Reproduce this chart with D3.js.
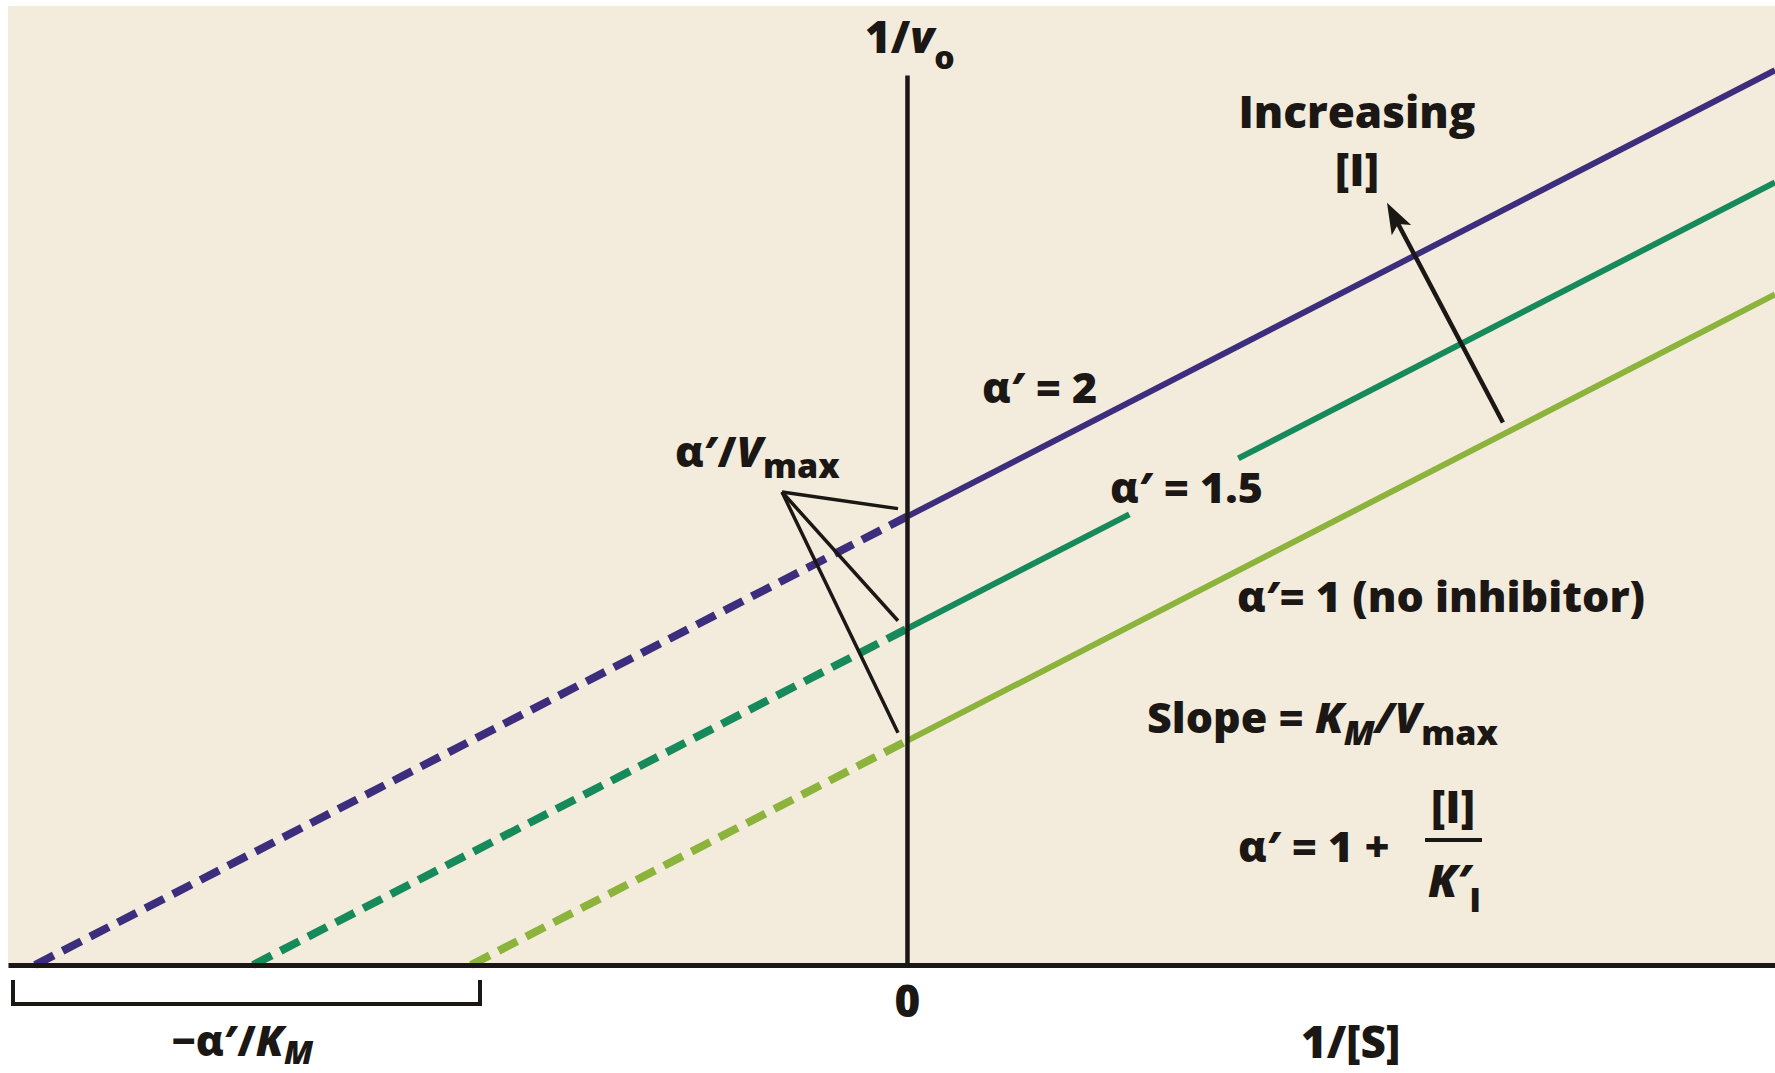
<!DOCTYPE html>
<html>
<head>
<meta charset="utf-8">
<script src="https://cdn.jsdelivr.net/npm/d3@7"></script>
<style>
  html, body { margin: 0; padding: 0; background: #ffffff; }
  svg { display: block; }
  text { font-family: "Open Sans", "Noto Sans", sans-serif; font-weight: 800; fill: #1b1715; }
</style>
</head>
<body>
<svg id="chart" width="1775" height="1073"></svg>
<script>
// Lineweaver–Burk (double-reciprocal) plot for uncompetitive inhibition.
// Each line: 1/v0 = (KM/Vmax)·(1/[S]) + α′/Vmax, x-intercept = −α′/KM.
const alphaValues  = [1, 1.5, 2];
const seriesNames  = ["α′= 1 (no inhibitor)", "α′ = 1.5", "α′ = 2"];
const seriesColors = ["#8cb43c", "#178a5b", "#3d2e7d"];
const KM = 1;
const VMAX = 1;
const xTickValues = [0];
const xTickLabels = ["0"];
// stretch of the α′ = 1.5 line left open for its label (in 1/[S] units)
const labelGaps = [null, [0.51, 0.76], null];

const W = 1775, H = 1073;
const FS = 43;
const svg = d3.select("#chart");

const x = d3.scaleLinear().domain([-2.062, 1.991]).range([8, 1775]);
const y = d3.scaleLinear().domain([0, 3.97]).range([965, 75]);

// beige plotting panel
svg.append("rect").attr("width", W).attr("height", H).attr("fill", "#ffffff");
svg.append("rect")
  .attr("x", x.range()[0]).attr("y", 6)
  .attr("width", x.range()[1] - x.range()[0])
  .attr("height", y(0) - 6)
  .attr("fill", "#f3ecdc");

const line = d3.line().x(d => x(d[0])).y(d => y(d[1]));
const xEnd = x.domain()[1];

alphaValues.forEach((a, i) => {
  const slope = KM / VMAX;
  const yInt = a / VMAX;
  const xInt = -a / KM;
  const f = v => slope * v + yInt;

  // extrapolated part back to the x-intercept
  svg.append("path")
    .attr("d", line([[xInt, 0], [0, yInt]]))
    .attr("fill", "none")
    .attr("stroke", seriesColors[i])
    .attr("stroke-width", 8)
    .attr("stroke-dasharray", "21 10");

  // measured part, 1/[S] > 0
  const gap = labelGaps[i];
  const segs = gap ? [[0, gap[0]], [gap[1], xEnd]] : [[0, xEnd]];
  segs.forEach(([s0, s1]) => {
    svg.append("path")
      .attr("d", line([[s0, f(s0)], [s1, f(s1)]]))
      .attr("fill", "none")
      .attr("stroke", seriesColors[i])
      .attr("stroke-width", 6);
  });
});

// axes
const xAxis = d3.axisBottom(x).tickValues(xTickValues).tickFormat((d, i) => xTickLabels[i])
  .tickSize(0).tickSizeOuter(0);
const gx = svg.append("g").attr("transform", `translate(0,${y(0)})`).call(xAxis);
gx.select(".domain").attr("stroke", "#1b1715").attr("stroke-width", 5);
gx.selectAll(".tick text")
  .attr("y", 52).attr("dy", null)
  .attr("font-size", 44)
  .attr("font-family", null)
  .style("fill", "#1b1715");

const yAxis = d3.axisLeft(y).tickValues([]).tickSizeOuter(0);
const gy = svg.append("g").attr("transform", `translate(${x(0)},0)`).call(yAxis);
gy.select(".domain").attr("stroke", "#1b1715").attr("stroke-width", 4.5);

// rich text helper: runs of {t, i: italic, sub: baseline drop}
function rich(x0, y0, runs, size = FS, anchor = "start") {
  const t = svg.append("text")
    .attr("x", x0).attr("y", y0)
    .attr("font-size", size)
    .attr("text-anchor", anchor);
  let shift = 0;
  runs.forEach(r => {
    const target = r.sub || 0;
    const ts = t.append("tspan").text(r.t);
    if (target !== shift) { ts.attr("dy", target - shift); shift = target; }
    if (r.sub) ts.attr("font-size", r.size || Math.round(size * 0.78));
    if (r.i) ts.attr("font-style", "italic");
  });
  return t;
}

// axis titles
rich(865, 53, [{ t: "1/" }, { t: "v", i: 1 }, { t: "o", sub: 16, size: 32 }], 44);
rich(1301, 1058, [{ t: "1/[S]" }], 44);

// intercept bracket and its label
svg.append("path")
  .attr("d", "M13,980 V1004 H480 V980")
  .attr("fill", "none").attr("stroke", "#1b1715").attr("stroke-width", 4);
rich(172, 1056, [{ t: "−α′/" }, { t: "K", i: 1 }, { t: "M", i: 1, sub: 8, size: 32 }], 42);

// series labels
rich(982, 403, [{ t: seriesNames[2] }]);
rich(1110, 503, [{ t: seriesNames[1] }]);
rich(1237, 612, [{ t: seriesNames[0] }]);

// y-intercept callout
rich(675, 467, [{ t: "α′/" }, { t: "V", i: 1 }, { t: "max", sub: 11 }]);
const origin = [782, 492];
alphaValues.forEach(a => {
  svg.append("line")
    .attr("x1", origin[0]).attr("y1", origin[1])
    .attr("x2", x(0) - 9).attr("y2", y(a / VMAX) - 8)
    .attr("stroke", "#1b1715").attr("stroke-width", 3.5);
});

// "Increasing [I]" arrow
svg.append("defs").append("marker")
  .attr("id", "head")
  .attr("viewBox", "-34 -13 36 26")
  .attr("refX", 0).attr("refY", 0)
  .attr("markerWidth", 36).attr("markerHeight", 26)
  .attr("markerUnits", "userSpaceOnUse")
  .attr("orient", "auto")
  .append("path")
  .attr("d", "M0,0 L-31,-11 L-24,0 L-31,11 Z")
  .attr("fill", "#1b1715");

const arrowFrom = [1.367, 2.42], arrowTo = [1.101, 3.40];
const ax0 = x(arrowFrom[0]), ay0 = y(arrowFrom[1]);
const ax1 = x(arrowTo[0]), ay1 = y(arrowTo[1]);
const len = Math.hypot(ax1 - ax0, ay1 - ay0);
const ux = (ax1 - ax0) / len, uy = (ay1 - ay0) / len;
svg.append("line")
  .attr("x1", ax0).attr("y1", ay0)
  .attr("x2", ax1 - ux * 18).attr("y2", ay1 - uy * 18)
  .attr("stroke", "#1b1715").attr("stroke-width", 4.5);
svg.append("path")
  .attr("d", `M${ax1 - ux * 18},${ay1 - uy * 18} L${ax1},${ay1}`)
  .attr("stroke", "none").attr("fill", "none")
  .attr("marker-end", "url(#head)");

rich(1357, 128, [{ t: "Increasing" }], 44, "middle");
rich(1357, 186, [{ t: "[I]" }], 44, "middle");

// slope and α′ definitions
rich(1147, 733, [{ t: "Slope = " }, { t: "K", i: 1 }, { t: "M", i: 1, sub: 12 }, { t: "/V", i: 1 }, { t: "max", sub: 12 }]);
rich(1238, 862, [{ t: "α′ = 1 +" }]);
rich(1453, 823, [{ t: "[I]" }], 44, "middle");
svg.append("line")
  .attr("x1", 1425).attr("x2", 1482).attr("y1", 840).attr("y2", 840)
  .attr("stroke", "#1b1715").attr("stroke-width", 4);
rich(1428, 897, [{ t: "K′", i: 1 }, { t: "I", sub: 15 }], 44);
</script>
</body>
</html>
